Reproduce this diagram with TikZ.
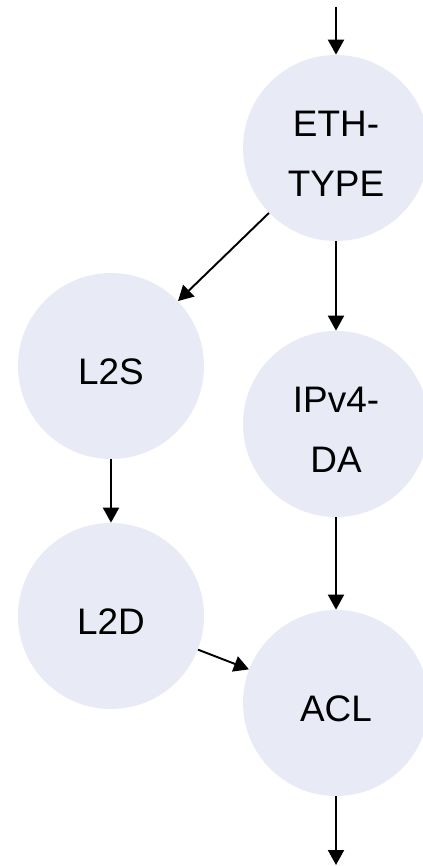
\documentclass[tikz,border=0pt]{standalone}
\usepackage{fontspec}
\setmainfont{Liberation Sans}
\usetikzlibrary{arrows.meta}
\definecolor{stagefill}{RGB}{232,234,246}

\begin{document}
\begin{tikzpicture}[
    stage/.style={circle, fill=stagefill, minimum size=3.72cm, inner sep=0pt,
      align=center, font=\fontsize{21}{34}\selectfont,
      text depth=0pt, text height=20.7pt},
    stage2/.style={stage, text height=54.7pt},
    flow/.style={-{Triangle[width=0.32cm,length=0.3cm]}, line width=1.1pt}
  ]

  % Canvas
  \useasboundingbox (0,0) rectangle (8.46,-17.32);
  \clip (0,0) rectangle (8.46,-17.32);

  %---------------------------------------
  % Pipeline stages
  %---------------------------------------
  \node[stage2] (ethtype) at (6.72,-2.96)  {ETH-\\TYPE};
  \node[stage]  (ltwos)   at (2.22,-7.32)  {L2S};
  \node[stage2] (ipvfour) at (6.72,-8.48)  {IPv4-\\DA};
  \node[stage]  (ltwod)   at (2.22,-12.32) {L2D};
  \node[stage]  (acl)     at (6.72,-14.06) {ACL};

  % Entry and exit points
  \coordinate (entry) at (6.72,-0.14);
  \coordinate (exit)  at (6.72,-17.30);

  %---------------------------------------
  % Transitions
  %---------------------------------------
  \draw[flow] (entry)   -- (ethtype);
  \draw[flow] (ethtype) -- (ltwos);
  \draw[flow] (ethtype) -- (ipvfour);
  \draw[flow] (ltwos)   -- (ltwod);
  \draw[flow] (ipvfour) -- (acl);
  \draw[flow] (ltwod)   -- (acl);
  \draw[flow] (acl)     -- (exit);

\end{tikzpicture}
\end{document}
